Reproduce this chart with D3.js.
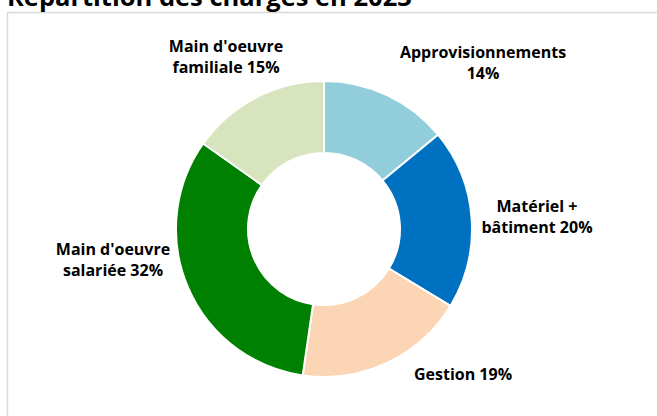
<!DOCTYPE html>
<html><head><meta charset="utf-8">
<script src="https://cdn.jsdelivr.net/npm/d3@7"></script>
<style>body{margin:0;background:#fff}svg{display:block}</style>
</head><body>
<script>
const categories = ["Approvisionnements", "Matériel + bâtiment", "Gestion", "Main d'oeuvre salariée", "Main d'oeuvre familiale"];
const values = [14.0, 19.7, 18.6, 32.5, 15.2];
const colors = ["#92CDDC", "#0070C0", "#FCD5B5", "#008000", "#D7E4BD"];
const labelLines = [["Approvisionnements", "14%"], ["Matériel +", "bâtiment 20%"], ["Gestion 19%"], ["Main d'oeuvre", "salariée 32%"], ["Main d'oeuvre", "familiale 15%"]];
const labelPos = [[483, 58], [537, 212], [463, 380], [113, 255], [226, 52]];

const W = 657, H = 416;
const svg = d3.select("body").append("svg").attr("width", W).attr("height", H);
svg.append("rect").attr("x", 7.5).attr("y", 12.5).attr("width", 700).attr("height", 500)
  .attr("fill", "#fff").attr("stroke", "#D9D9D9").attr("stroke-width", 1.5);
svg.append("text").attr("x", 7).attr("y", 6).attr("font-family", "'Open Sans', sans-serif")
  .attr("font-weight", "bold").attr("font-size", 25.5).attr("fill", "#000").text("Répartition des charges en 2023");

const cx = 324, cy = 229, R = 148, r = 76;
const pie = d3.pie().sort(null).value(d => d)(values);
const arc = d3.arc().innerRadius(r).outerRadius(R);
const g = svg.append("g").attr("transform", `translate(${cx},${cy})`);
g.selectAll("path").data(pie).enter().append("path")
  .attr("d", arc).attr("fill", (d, i) => colors[i]).attr("stroke", "#fff").attr("stroke-width", 2);

const lbl = svg.append("g").attr("font-family", "'Open Sans', sans-serif").attr("font-weight", "bold")
  .attr("font-size", 16).attr("fill", "#000").attr("text-anchor", "middle");
labelLines.forEach((lines, i) => {
  const t = lbl.append("text").attr("x", labelPos[i][0]).attr("y", labelPos[i][1]);
  lines.forEach((s, j) => t.append("tspan").attr("x", labelPos[i][0]).attr("dy", j ? 21 : 0).text(s));
});
</script>
</body></html>
